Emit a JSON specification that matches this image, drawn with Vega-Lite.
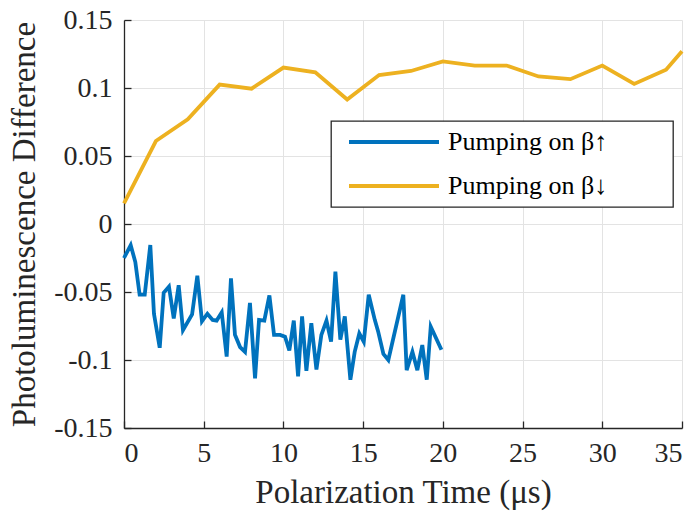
{
  "$schema": "https://vega.github.io/schema/vega-lite/v6.json",
  "width": 558,
  "height": 408,
  "autosize": {"type": "none"},
  "padding": {"left": 124, "top": 20, "right": 16, "bottom": 84},
  "background": "white",
  "config": {
    "view": {"stroke": null},
    "font": "Liberation Serif",
    "legend": {"strokeWidth": 1.3},
    "axis": {
      "domainColor": "#262626",
      "domainWidth": 1.3,
      "tickColor": "#262626",
      "tickWidth": 1.3,
      "tickSize": -7,
      "gridColor": "#e3e3e3",
      "gridWidth": 1,
      "labelFont": "Liberation Serif",
      "labelFontSize": 28,
      "labelColor": "#262626",
      "titleFont": "Liberation Serif",
      "titleFontSize": 33,
      "titleFontWeight": "normal",
      "titleColor": "#262626"
    }
  },
  "data": {
    "values": [
      {"series": "Pumping on β↑", "t": 0, "v": -0.025},
      {"series": "Pumping on β↑", "t": 0.42, "v": -0.0155},
      {"series": "Pumping on β↑", "t": 0.71, "v": -0.028},
      {"series": "Pumping on β↑", "t": 0.98, "v": -0.052},
      {"series": "Pumping on β↑", "t": 1.3, "v": -0.052},
      {"series": "Pumping on β↑", "t": 1.65, "v": -0.0155},
      {"series": "Pumping on β↑", "t": 1.88, "v": -0.066},
      {"series": "Pumping on β↑", "t": 2.24, "v": -0.091},
      {"series": "Pumping on β↑", "t": 2.49, "v": -0.0505},
      {"series": "Pumping on β↑", "t": 2.82, "v": -0.046},
      {"series": "Pumping on β↑", "t": 3.12, "v": -0.0695},
      {"series": "Pumping on β↑", "t": 3.43, "v": -0.045},
      {"series": "Pumping on β↑", "t": 3.7, "v": -0.078},
      {"series": "Pumping on β↑", "t": 4.27, "v": -0.0665},
      {"series": "Pumping on β↑", "t": 4.6, "v": -0.038},
      {"series": "Pumping on β↑", "t": 4.89, "v": -0.0715},
      {"series": "Pumping on β↑", "t": 5.23, "v": -0.066},
      {"series": "Pumping on β↑", "t": 5.56, "v": -0.0705},
      {"series": "Pumping on β↑", "t": 5.81, "v": -0.071},
      {"series": "Pumping on β↑", "t": 6.13, "v": -0.065},
      {"series": "Pumping on β↑", "t": 6.44, "v": -0.0975},
      {"series": "Pumping on β↑", "t": 6.71, "v": -0.04},
      {"series": "Pumping on β↑", "t": 6.96, "v": -0.0815},
      {"series": "Pumping on β↑", "t": 7.28, "v": -0.0905},
      {"series": "Pumping on β↑", "t": 7.59, "v": -0.094},
      {"series": "Pumping on β↑", "t": 7.9, "v": -0.058},
      {"series": "Pumping on β↑", "t": 8.22, "v": -0.1135},
      {"series": "Pumping on β↑", "t": 8.47, "v": -0.0705},
      {"series": "Pumping on β↑", "t": 8.8, "v": -0.071},
      {"series": "Pumping on β↑", "t": 9.12, "v": -0.0525},
      {"series": "Pumping on β↑", "t": 9.41, "v": -0.0815},
      {"series": "Pumping on β↑", "t": 9.79, "v": -0.0815},
      {"series": "Pumping on β↑", "t": 10.1, "v": -0.0828},
      {"series": "Pumping on β↑", "t": 10.37, "v": -0.093},
      {"series": "Pumping on β↑", "t": 10.65, "v": -0.071},
      {"series": "Pumping on β↑", "t": 10.92, "v": -0.112},
      {"series": "Pumping on β↑", "t": 11.17, "v": -0.068},
      {"series": "Pumping on β↑", "t": 11.44, "v": -0.108},
      {"series": "Pumping on β↑", "t": 11.75, "v": -0.073},
      {"series": "Pumping on β↑", "t": 12.07, "v": -0.107},
      {"series": "Pumping on β↑", "t": 12.38, "v": -0.0815},
      {"series": "Pumping on β↑", "t": 12.7, "v": -0.071},
      {"series": "Pumping on β↑", "t": 12.99, "v": -0.0865},
      {"series": "Pumping on β↑", "t": 13.26, "v": -0.035},
      {"series": "Pumping on β↑", "t": 13.57, "v": -0.085},
      {"series": "Pumping on β↑", "t": 13.85, "v": -0.068},
      {"series": "Pumping on β↑", "t": 14.2, "v": -0.1145},
      {"series": "Pumping on β↑", "t": 14.47, "v": -0.094},
      {"series": "Pumping on β↑", "t": 14.76, "v": -0.0805},
      {"series": "Pumping on β↑", "t": 15.04, "v": -0.0865},
      {"series": "Pumping on β↑", "t": 15.35, "v": -0.052},
      {"series": "Pumping on β↑", "t": 15.73, "v": -0.0705},
      {"series": "Pumping on β↑", "t": 15.94, "v": -0.079},
      {"series": "Pumping on β↑", "t": 16.27, "v": -0.0955},
      {"series": "Pumping on β↑", "t": 16.58, "v": -0.1},
      {"series": "Pumping on β↑", "t": 17.52, "v": -0.052},
      {"series": "Pumping on β↑", "t": 17.73, "v": -0.1075},
      {"series": "Pumping on β↑", "t": 18.09, "v": -0.094},
      {"series": "Pumping on β↑", "t": 18.4, "v": -0.1075},
      {"series": "Pumping on β↑", "t": 18.71, "v": -0.089},
      {"series": "Pumping on β↑", "t": 18.99, "v": -0.1145},
      {"series": "Pumping on β↑", "t": 19.24, "v": -0.0755},
      {"series": "Pumping on β↑", "t": 19.91, "v": -0.0925},
      {"series": "Pumping on β↓", "t": 0, "v": 0.0152},
      {"series": "Pumping on β↓", "t": 2, "v": 0.061},
      {"series": "Pumping on β↓", "t": 4, "v": 0.077},
      {"series": "Pumping on β↓", "t": 6, "v": 0.1025},
      {"series": "Pumping on β↓", "t": 8, "v": 0.0995},
      {"series": "Pumping on β↓", "t": 10, "v": 0.115},
      {"series": "Pumping on β↓", "t": 12, "v": 0.1115},
      {"series": "Pumping on β↓", "t": 14, "v": 0.0915},
      {"series": "Pumping on β↓", "t": 16, "v": 0.1095},
      {"series": "Pumping on β↓", "t": 18, "v": 0.1125},
      {"series": "Pumping on β↓", "t": 20, "v": 0.1195},
      {"series": "Pumping on β↓", "t": 22, "v": 0.1165},
      {"series": "Pumping on β↓", "t": 24, "v": 0.1165},
      {"series": "Pumping on β↓", "t": 26, "v": 0.1085},
      {"series": "Pumping on β↓", "t": 28, "v": 0.1065},
      {"series": "Pumping on β↓", "t": 30, "v": 0.1165},
      {"series": "Pumping on β↓", "t": 32, "v": 0.103},
      {"series": "Pumping on β↓", "t": 34, "v": 0.1135},
      {"series": "Pumping on β↓", "t": 35, "v": 0.127}
    ]
  },
  "mark": {"type": "line", "strokeWidth": 3.8, "strokeJoin": "miter"},
  "encoding": {
    "x": {
      "field": "t",
      "type": "quantitative",
      "scale": {"domain": [0, 35], "nice": false, "zero": false},
      "axis": {
        "title": "Polarization Time (μs)",
        "values": [0, 5, 10, 15, 20, 25, 30, 35],
        "labelPadding": 18,
        "titlePadding": 9
      }
    },
    "y": {
      "field": "v",
      "type": "quantitative",
      "scale": {"domain": [-0.15, 0.15], "nice": false, "zero": false},
      "axis": {
        "title": "Photoluminescence Difference",
        "values": [-0.15, -0.1, -0.05, 0, 0.05, 0.1, 0.15],
        "labelExpr": "datum.value == 0 ? '0' : (datum.value < 0 ? '-' : '') + format(abs(datum.value), '~g')",
        "labelPadding": 19,
        "titlePadding": 12
      }
    },
    "color": {
      "field": "series",
      "type": "nominal",
      "scale": {"domain": ["Pumping on β↑", "Pumping on β↓"], "range": ["#0072BD", "#EDB120"]},
      "legend": {
        "title": null,
        "orient": "none",
        "legendX": 207,
        "legendY": 101,
        "direction": "vertical",
        "fillColor": "white",
        "strokeColor": "#262626",
        "padding": 8,
        "symbolOffset": 8,
        "symbolType": "stroke",
        "symbolSize": 8100,
        "symbolStrokeWidth": 3.8,
        "clipHeight": 26,
        "rowPadding": 18,
        "labelFont": "Liberation Serif",
        "labelFontSize": 26,
        "labelColor": "black",
        "labelOffset": 7,
        "labelLimit": 400,
        "labelExpr": "datum.label + '\u2800\u2800\u2800'"
      }
    }
  }
}
